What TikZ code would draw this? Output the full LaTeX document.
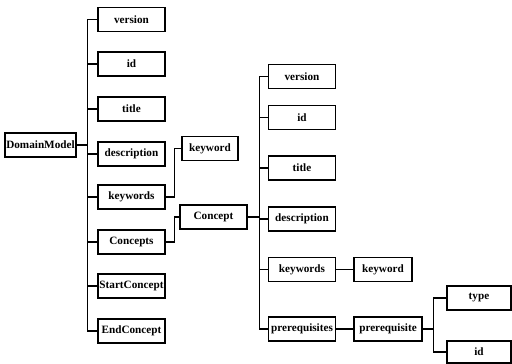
\documentclass[tikz,border=0pt]{standalone}
\usepackage{fontspec}
\setmainfont{Liberation Serif}
\begin{document}
\begin{tikzpicture}[x=1pt,y=-1pt,
  box/.style={draw,line width=1.3pt,minimum height=24pt,inner sep=0pt,
    font=\fontsize{11.2}{13}\selectfont\bfseries},
  wide/.style={box,minimum width=67pt},
  link/.style={line width=1.3pt}]
\useasboundingbox (0,0) rectangle (512,364);

% root
\node[box,minimum width=71pt] (dm) at (40.5,145) {DomainModel};

% first level
\node[wide] (ver1) at (131.5,19.5) {version};
\node[wide] (id1) at (131.5,64) {id};
\node[wide] (tit1) at (131.5,109) {title};
\node[wide] (des1) at (131.5,154) {description};
\node[wide] (kws1) at (131.5,197) {keywords};
\node[wide] (cons) at (131.5,242) {Concepts};
\node[wide] (start) at (131.5,286) {StartConcept};
\node[wide] (end) at (131.5,331) {EndConcept};

\draw[link] (dm.east) -- ++(11,0) coordinate (s1);
\foreach \c in {ver1,id1,tit1,des1,kws1,cons,start,end}
  \draw[link] (s1) |- (\c.west);

% keyword list of the model
\node[box,minimum width=56pt] (kw1) at (210,148.5) {keyword};
\draw[link] (kws1.east) -- ++(9,0) |- (kw1.west);

% concept
\node[wide] (con) at (213.5,217) {Concept};
\draw[link] (cons.east) -- ++(9,0) |- (con.west);

% concept children
\node[wide] (ver2) at (302,76.5) {version};
\node[wide] (id2) at (302,117.5) {id};
\node[wide] (tit2) at (302,168) {title};
\node[wide] (des2) at (302,219) {description};
\node[wide] (kws2) at (302,269.5) {keywords};
\node[wide] (pres) at (302,329) {prerequisites};

\draw[link] (con.east) -- ++(12,0) coordinate (s2);
\foreach \c in {ver2,id2,tit2,des2,kws2,pres}
  \draw[link] (s2) |- (\c.west);

\node[box,minimum width=58pt] (kw2) at (383,269.5) {keyword};
\draw[link] (kws2.east) -- (kw2.west);

\node[box,minimum width=68pt] (pre) at (388,329) {prerequisite};
\draw[link] (pres.east) -- (pre.west);

% prerequisite children
\node[box,minimum width=64pt] (type) at (479,298) {type};
\node[box,minimum width=64pt,minimum height=22pt] (id3) at (479,352) {id};
\draw[link] (pre.east) -- ++(11,0) coordinate (s3);
\draw[link] (s3) |- (type.west);
\draw[link] (s3) |- (id3.west);
\end{tikzpicture}
\end{document}
